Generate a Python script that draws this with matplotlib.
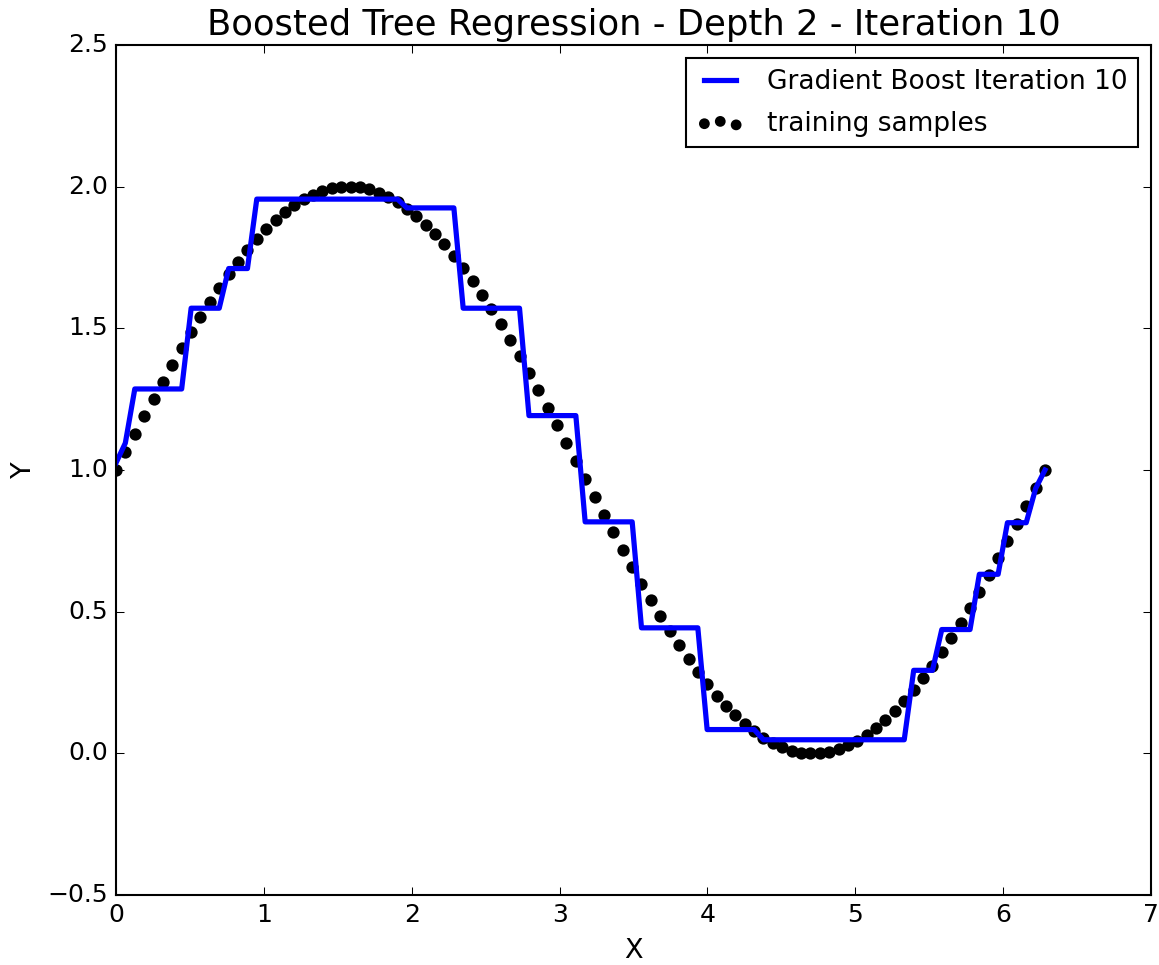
import matplotlib
matplotlib.use('Agg')
import matplotlib.pyplot as plt

plt.style.use('classic')

# sample positions
x = [0.000, 0.063, 0.127, 0.190, 0.254, 0.317, 0.381, 0.444, 0.508, 0.571,
     0.635, 0.698, 0.762, 0.825, 0.889, 0.952, 1.015, 1.079, 1.142, 1.206,
     1.269, 1.333, 1.396, 1.460, 1.523, 1.587, 1.650, 1.714, 1.777, 1.841,
     1.904, 1.967, 2.031, 2.094, 2.158, 2.221, 2.285, 2.348, 2.412, 2.475,
     2.539, 2.602, 2.666, 2.729, 2.793, 2.856, 2.920, 2.983, 3.046, 3.110,
     3.173, 3.237, 3.300, 3.364, 3.427, 3.491, 3.554, 3.618, 3.681, 3.745,
     3.808, 3.872, 3.935, 3.998, 4.062, 4.125, 4.189, 4.252, 4.316, 4.379,
     4.443, 4.506, 4.570, 4.633, 4.697, 4.760, 4.824, 4.887, 4.951, 5.014,
     5.077, 5.141, 5.204, 5.268, 5.331, 5.395, 5.458, 5.522, 5.585, 5.649,
     5.712, 5.776, 5.839, 5.903, 5.966, 6.029, 6.093, 6.156, 6.220, 6.283]

# training targets
y = [1.000, 1.063, 1.127, 1.189, 1.251, 1.312, 1.372, 1.430, 1.486, 1.541,
     1.593, 1.643, 1.690, 1.735, 1.776, 1.815, 1.850, 1.882, 1.910, 1.934,
     1.955, 1.972, 1.985, 1.994, 1.999, 2.000, 1.997, 1.990, 1.979, 1.964,
     1.945, 1.922, 1.896, 1.866, 1.833, 1.796, 1.756, 1.713, 1.667, 1.618,
     1.567, 1.514, 1.458, 1.401, 1.342, 1.282, 1.220, 1.158, 1.095, 1.032,
     0.968, 0.905, 0.842, 0.780, 0.718, 0.658, 0.599, 0.542, 0.486, 0.433,
     0.382, 0.333, 0.287, 0.244, 0.204, 0.167, 0.134, 0.104, 0.078, 0.055,
     0.036, 0.021, 0.010, 0.003, 0.000, 0.001, 0.006, 0.015, 0.028, 0.045,
     0.066, 0.090, 0.118, 0.150, 0.185, 0.224, 0.265, 0.310, 0.357, 0.407,
     0.459, 0.514, 0.570, 0.628, 0.688, 0.749, 0.811, 0.873, 0.937, 1.000]

# boosted model prediction at each sample
pred = [1.025, 1.095, 1.286, 1.286, 1.286, 1.286, 1.286, 1.286, 1.571, 1.571,
        1.571, 1.571, 1.711, 1.711, 1.711, 1.956, 1.956, 1.956, 1.956, 1.956,
        1.956, 1.956, 1.956, 1.956, 1.956, 1.956, 1.956, 1.956, 1.956, 1.956,
        1.956, 1.925, 1.925, 1.925, 1.925, 1.925, 1.925, 1.571, 1.571, 1.571,
        1.571, 1.571, 1.571, 1.571, 1.192, 1.192, 1.192, 1.192, 1.192, 1.192,
        0.817, 0.817, 0.817, 0.817, 0.817, 0.817, 0.443, 0.443, 0.443, 0.443,
        0.443, 0.443, 0.443, 0.084, 0.084, 0.084, 0.084, 0.084, 0.084, 0.048,
        0.048, 0.048, 0.048, 0.048, 0.048, 0.048, 0.048, 0.048, 0.048, 0.048,
        0.048, 0.048, 0.048, 0.048, 0.048, 0.293, 0.293, 0.293, 0.437, 0.437,
        0.437, 0.437, 0.632, 0.632, 0.632, 0.814, 0.814, 0.814, 0.935, 1.000]

fig = plt.figure(figsize=(1159 / 150., 965 / 150.), dpi=150, facecolor='white')
ax = fig.add_axes([0.1001, 0.0725, 0.893, 0.8809])

ax.plot(x, pred, color='b', lw=2.5, label='Gradient Boost Iteration 10')
ax.scatter(x, y, s=24, c='k', label='training samples')

ax.set_xlim(0, 7)
ax.set_ylim(-0.5, 2.5)
ax.set_title('Boosted Tree Regression - Depth 2 - Iteration 10', fontsize=17)
ax.set_xlabel('X', fontsize=13)
ax.set_ylabel('Y', fontsize=13)
ax.tick_params(labelsize=12)
ax.legend(loc='upper right', fontsize=12.7, handlelength=1.8,
          handletextpad=0.85, labelspacing=0.6, markerscale=0.85)

fig.savefig('out.png', dpi=150, facecolor='white')
